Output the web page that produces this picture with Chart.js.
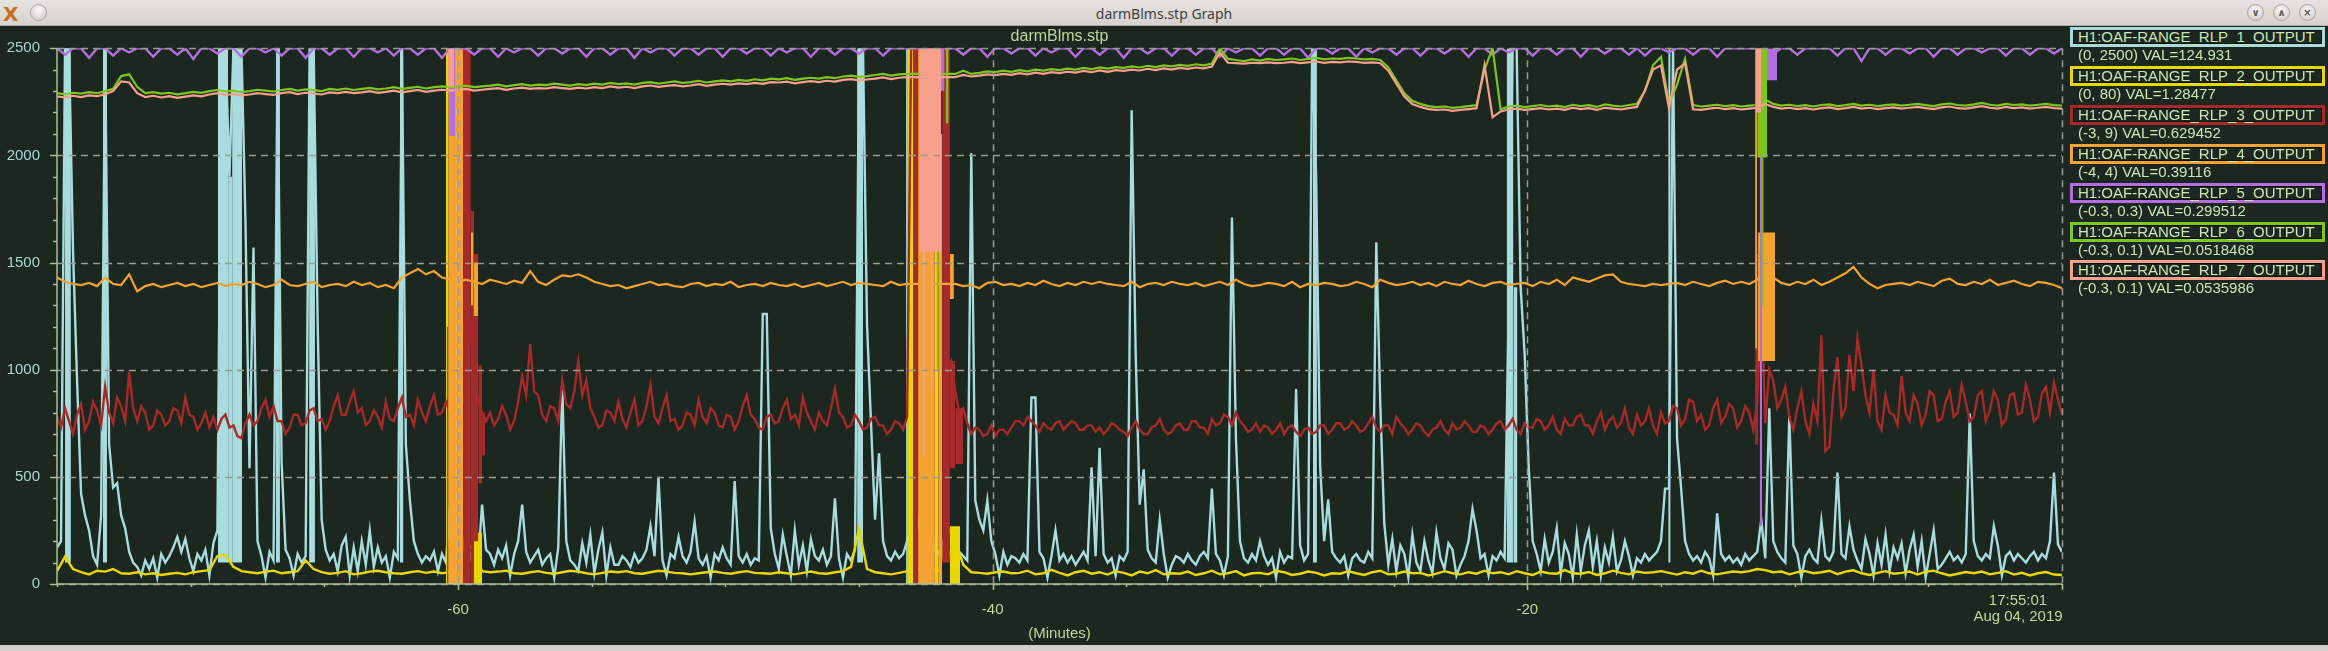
<!DOCTYPE html>
<html>
<head>
<meta charset="utf-8">
<title>darmBlms.stp Graph</title>
<script src="https://cdn.jsdelivr.net/npm/chart.js@4.4.1/dist/chart.umd.min.js"></script>
<style>
  html, body { margin: 0; padding: 0; background: #1b271f; }
  body { width: 2328px; height: 651px; position: relative; overflow: hidden; font-family: 'Liberation Sans', Arial, sans-serif; }
  #titlebar { position: absolute; left: 0; top: 0; width: 2328px; height: 26px; box-sizing: border-box;
              background: linear-gradient(#e6e4e0, #d5d2cd); border-bottom: 1px solid #aeaba6; }
  #titlebar .caption { position: absolute; left: 0; right: 0; top: 4px; text-align: center;
                       font: 14px 'Noto Sans', 'DejaVu Sans', sans-serif; color: #3f3f3f; }
  .wbtn { position: absolute; top: 4px; width: 17px; height: 17px; border-radius: 50%; box-sizing: border-box;
          background: radial-gradient(circle at 50% 35%, #fbfbfa, #c8c5c0); border: 1px solid #a9a6a1;
          font: bold 10px 'DejaVu Sans', sans-serif; color: #5a5a5a; text-align: center; line-height: 15px; }
  #xlogo { position: absolute; left: 3px; top: 2px; font: bold 20px 'DejaVu Sans', sans-serif; color: #c8701e; }
  #plot { position: absolute; left: 0; top: 26px; }
  #bottombar { position: absolute; left: 0; top: 645px; width: 2328px; height: 6px; background: #d3d0cb; }
  #legend { position: absolute; left: 2070px; top: 0; }
  .entry { position: absolute; left: 0; width: 255px; height: 39px; }
  .entry .box { height: 20px; box-sizing: border-box; border: 3px solid; background: #1b271f;
                box-shadow: inset 0 0 0 1px #0b110d; padding-left: 5px;
                font-size: 15px; line-height: 14px; color: #c9e6b6; white-space: nowrap; }
  .entry .info { position: absolute; left: 8px; top: 19px; font-size: 15px; line-height: 17px; color: #c9e6b6; white-space: nowrap; }
</style>
</head>
<body>
<div id="titlebar">
  <span id="xlogo">X</span>
  <span class="wbtn" style="left:30px"></span>
  <div class="caption">darmBlms.stp Graph</div>
  <span class="wbtn" style="left:2247px">∨</span>
  <span class="wbtn" style="left:2273px">∧</span>
  <span class="wbtn" style="left:2299px">×</span>
</div>
<canvas id="plot" width="2328" height="619"></canvas>
<div id="legend"></div>
<div id="bottombar"></div>
<script>
// time axis, minutes before 17:55:01
const tStart = -75;
const fastStep = 0.15;   // RLP_1 and RLP_3 read every 0.15 min
const slowStep = 0.3;    // the other channels every 0.3 min
const xTicks = [-60, -40, -20, 0];
const yTicks = [0, 500, 1000, 1500, 2000, 2500];

// values as drawn on the shared 0..2500 screen scale
const rlp1 = [
  170, 200, 2500, 2500, 1550, 950, 420, 320, 250, 130,
  90, 320, 2500, 650, 450, 470, 320, 260, 150, 100,
  80, 40, 110, 70, 120, 30, 140, 100, 130, 170,
  220, 150, 210, 120, 60, 140, 110, 160, 40, 190,
  250, 2500, 2500, 1900, 2500, 2500, 2500, 1690, 540, 1570,
  200, 130, 30, 150, 110, 2500, 570, 160, 120, 40,
  140, 100, 130, 2500, 2500, 1220, 300, 160, 110, 140,
  60, 180, 220, 40, 170, 60, 200, 90, 250, 80,
  170, 100, 130, 30, 150, 120, 2500, 650, 390, 200,
  140, 100, 130, 110, 150, 60, 140, 100, 370, 200,
  300, 150, 250, 120, 180, 100, 370, 160, 140, 90,
  160, 120, 180, 40, 140, 200, 370, 150, 100, 130,
  160, 90, 120, 140, 30, 170, 930, 200, 110, 90,
  60, 190, 100, 230, 50, 160, 240, 40, 170, 90,
  90, 130, 110, 80, 140, 100, 120, 160, 270, 130,
  500, 110, 40, 140, 120, 220, 130, 100, 150, 290,
  120, 90, 130, 30, 140, 110, 170, 120, 90, 480,
  130, 100, 140, 90, 120, 110, 1260, 1260, 260, 140,
  70, 230, 130, 40, 250, 90, 180, 60, 210, 130,
  110, 160, 90, 130, 400, 120, 30, 140, 110, 160,
  2500, 2500, 1210, 750, 300, 610, 200, 130, 110, 150,
  120, 140, 200, 250, 180, 300, 150, 220, 120, 180,
  140, 200, 120, 160, 100, 150, 130, 110, 2010, 390,
  300, 250, 390, 200, 140, 40, 150, 90, 130, 120,
  100, 140, 110, 870, 870, 150, 120, 30, 130, 250,
  110, 140, 100, 130, 90, 120, 150, 110, 545, 130,
  635, 140, 100, 120, 40, 130, 110, 150, 2210, 1070,
  370, 535, 160, 120, 100, 300, 140, 30, 90, 130,
  120, 100, 140, 110, 90, 130, 150, 120, 445, 140,
  110, 40, 130, 1710, 680, 200, 120, 100, 140, 110,
  200, 130, 90, 120, 30, 150, 100, 130, 120, 910,
  180, 110, 140, 2500, 1900, 550, 200, 395, 150, 120,
  100, 130, 40, 120, 140, 110, 100, 150, 120, 1595,
  835, 280, 90, 210, 60, 180, 140, 30, 230, 100,
  60, 200, 110, 50, 240, 120, 70, 190, 160, 40,
  90, 130, 200, 350, 250, 120, 140, 40, 130, 110,
  150, 120, 1300, 2500, 2500, 1385, 1070, 550, 200, 140,
  60, 210, 100, 150, 260, 50, 190, 140, 30, 230,
  60, 180, 250, 80, 200, 40, 170, 100, 220, 60,
  110, 200, 130, 40, 120, 100, 140, 110, 130, 150,
  200, 445, 445, 2500, 680, 450, 200, 140, 110, 130,
  100, 150, 120, 40, 330, 140, 110, 130, 100, 120,
  90, 140, 110, 130, 150, 300, 120, 820, 200, 150,
  120, 100, 785, 180, 140, 30, 130, 160, 120, 100,
  295, 130, 110, 150, 520, 140, 120, 270, 160, 110,
  70, 210, 140, 40, 190, 90, 230, 60, 170, 120,
  190, 50, 160, 230, 80, 200, 30, 140, 250, 70,
  90, 120, 150, 110, 130, 100, 140, 795, 200, 130,
  110, 140, 120, 270, 180, 40, 130, 150, 110, 140,
  120, 100, 130, 150, 110, 140, 120, 200, 520, 185,
  150
];
const rlp2 = [
  60, 128, 70, 55, 45, 62, 58, 70, 50, 48,
  55, 45, 50, 42, 48, 52, 45, 55, 60, 65,
  130, 135, 80, 60, 55, 50, 58, 62, 50, 55,
  60, 110, 70, 55, 48, 52, 60, 45, 50, 58,
  62, 55, 50, 48, 55, 60, 52, 58, 50, 55,
  120, 200, 150, 60, 55, 58, 62, 50, 48, 55,
  60, 52, 48, 55, 62, 58, 50, 45, 52, 58,
  55, 60, 50, 48, 55, 62, 58, 52, 50, 45,
  50, 55, 58, 52, 48, 55, 60, 52, 50, 48,
  55, 50, 45, 52, 58, 50, 48, 55, 60, 80,
  260, 70, 55, 50, 45, 52, 60, 55, 90, 70,
  60, 270, 200, 90, 55, 52, 48, 55, 58, 50,
  52, 62, 45, 50, 66, 52, 40, 55, 62, 48,
  55, 44, 60, 52, 40, 58, 50, 65, 45, 50,
  48, 58, 42, 50, 62, 45, 50, 60, 40, 50,
  52, 45, 62, 55, 42, 48, 58, 52, 40, 50,
  48, 60, 50, 42, 55, 62, 45, 48, 58, 50,
  52, 40, 48, 60, 50, 45, 55, 48, 62, 50,
  55, 45, 60, 50, 42, 58, 50, 48, 65, 50,
  48, 56, 42, 50, 62, 52, 45, 58, 52, 55,
  60, 52, 44, 55, 48, 62, 50, 45, 52, 58,
  55, 60, 70, 65, 55, 58, 45, 55, 60, 50,
  55, 62, 46, 58, 64, 50, 42, 52, 60, 48,
  52, 58, 44, 58, 62, 50, 40, 48, 56, 50,
  58, 45, 52, 60, 44, 52, 40, 50, 56, 44,
  42
];
const rlp3 = [
  780, 730, 820, 760, 700, 790, 840, 720, 760, 850, 810, 740, 920, 800, 750, 870, 830, 760, 990, 820,
  760, 830, 800, 720, 740, 810, 790, 740, 760, 820, 810, 750, 870, 790, 780, 720, 750, 800, 730, 780,
  720, 770, 790, 730, 740, 690, 680, 750, 790, 740, 760, 820, 860, 780, 830, 760, 760, 700, 730, 790,
  790, 740, 750, 810, 820, 760, 770, 720, 760, 830, 880, 790, 790, 850, 900, 800, 820, 740, 760, 810,
  780, 730, 850, 770, 760, 820, 870, 780, 790, 740, 860, 800, 760, 830, 880, 790, 800, 850, 800, 2500,
  2500, 2500, 1500, 1200, 990, 850, 800, 760, 800, 740, 770, 830, 790, 720, 760, 850, 970, 880, 1120, 900,
  880, 790, 760, 830, 820, 760, 950, 840, 820, 900, 1040, 880, 950, 820, 780, 730, 740, 810, 800, 760,
  850, 770, 730, 800, 860, 740, 760, 830, 930, 780, 750, 820, 880, 760, 770, 720, 740, 800, 790, 740,
  860, 780, 750, 820, 800, 740, 730, 790, 780, 720, 760, 830, 880, 790, 770, 730, 720, 780, 790, 750,
  760, 820, 860, 770, 790, 740, 870, 800, 760, 720, 800, 760, 740, 820, 910, 800, 780, 730, 740, 790,
  760, 720, 730, 770, 780, 740, 740, 700, 720, 760, 750, 720, 780, 2500, 2500, 2500, 1500, 1100, 900, 2500,
  2500, 2500, 1000, 1040, 900, 800, 820, 750, 700, 730, 720, 690, 700, 740, 690, 720, 720, 700, 730, 760,
  760, 740, 780, 760, 740, 710, 750, 730, 720, 750, 760, 720, 740, 760, 750, 720, 720, 740, 740, 710,
  730, 700, 720, 750, 740, 720, 710, 690, 730, 760, 720, 700, 700, 730, 740, 770, 720, 700, 710, 740,
  750, 720, 720, 760, 760, 730, 730, 700, 770, 740, 750, 790, 780, 740, 800, 760, 740, 710, 720, 750,
  710, 740, 730, 700, 720, 750, 700, 730, 740, 710, 690, 720, 730, 700, 710, 740, 740, 700, 720, 750,
  750, 720, 730, 760, 740, 710, 720, 750, 780, 730, 710, 740, 740, 700, 780, 750, 730, 700, 720, 750,
  740, 710, 690, 720, 730, 760, 720, 700, 750, 720, 730, 760, 740, 710, 710, 740, 730, 700, 720, 750,
  760, 720, 740, 770, 720, 700, 750, 730, 730, 770, 760, 720, 740, 780, 720, 700, 770, 740, 740, 780,
  790, 740, 740, 700, 760, 800, 720, 760, 780, 730, 750, 820, 730, 700, 790, 740, 760, 820, 740, 700,
  800, 750, 760, 830, 820, 740, 770, 860, 850, 760, 790, 720, 740, 820, 860, 750, 780, 840, 820, 730,
  760, 830, 800, 720, 850, 1400, 750, 1000, 950, 820, 860, 920, 780, 720, 820, 900, 760, 700, 840, 760,
  1160, 620, 640, 900, 1060, 780, 820, 1070, 900, 1145, 1020, 880, 800, 1000, 760, 720, 880, 800, 790, 740,
  970, 800, 760, 880, 840, 740, 790, 900, 880, 760, 770, 850, 900, 780, 800, 930, 850, 760, 780, 880,
  900, 760, 810, 900, 860, 740, 770, 880, 890, 790, 800, 930, 860, 760, 780, 890, 920, 800, 940, 860,
  790
];
const rlp4 = [
  1430, 1410, 1400, 1395, 1405, 1390, 1430, 1400, 1395, 1445,
  1365, 1390, 1400, 1385, 1395, 1405, 1390, 1400, 1385, 1395,
  1405, 1390, 1400, 1395, 1410, 1400, 1385, 1395, 1420, 1395,
  1390, 1400, 1410, 1385, 1395, 1400, 1390, 1410, 1395, 1405,
  1385, 1395, 1380, 1430, 1450, 1470, 1445, 1460, 1430, 1420,
  1410, 1420, 1410, 1400, 1420, 1410, 1400, 1415, 1405, 1460,
  1410, 1395, 1420, 1440, 1435, 1445, 1430, 1410, 1400, 1390,
  1395, 1380, 1390, 1400, 1410, 1395, 1400, 1390, 1385, 1400,
  1405, 1390, 1400, 1395, 1410, 1385, 1395, 1400, 1390, 1405,
  1395, 1390, 1400, 1385, 1395, 1405, 1390, 1400, 1410, 1395,
  1405, 1400, 1395, 1390, 1410, 1395, 1400, 1400, 1400, 1400,
  1400, 1400, 1400, 1390, 1395, 1380, 1405, 1410, 1395, 1400,
  1390, 1405, 1395, 1415, 1400, 1390, 1405, 1395, 1410, 1400,
  1410, 1400, 1395, 1390, 1410, 1385, 1400, 1405, 1395, 1410,
  1400, 1395, 1405, 1390, 1400, 1410, 1395, 1420, 1400, 1390,
  1395, 1405, 1400, 1390, 1410, 1385, 1400, 1395, 1405, 1400,
  1390, 1395, 1410, 1400, 1385, 1420, 1405, 1395, 1400, 1410,
  1395, 1405, 1390, 1410, 1400, 1395, 1415, 1400, 1390, 1405,
  1410, 1395, 1400, 1405, 1390, 1410, 1400, 1420, 1395, 1430,
  1420, 1410, 1425, 1440, 1445, 1410, 1400, 1395, 1390, 1400,
  1395, 1400, 1405, 1395, 1410, 1400, 1390, 1405, 1415, 1400,
  1410, 1400, 1420, 1460, 1430, 1405, 1395, 1410, 1400, 1420,
  1395, 1410, 1430, 1450, 1480, 1430, 1400, 1380, 1395, 1400,
  1405, 1395, 1410, 1400, 1390, 1415, 1425, 1400, 1395, 1410,
  1400, 1420, 1395, 1405, 1415, 1400, 1390, 1410, 1405, 1395,
  1380
];
const rlp5 = [
  2500, 2470, 2500, 2500, 2455, 2500, 2500, 2465, 2500, 2480,
  2500, 2500, 2460, 2500, 2500, 2470, 2500, 2450, 2500, 2500,
  2475, 2500, 2500, 2460, 2500, 2500, 2480, 2500, 2465, 2500,
  2500, 2455, 2500, 2500, 2470, 2500, 2500, 2460, 2500, 2500,
  2480, 2500, 2465, 2500, 2500, 2470, 2500, 2500, 2455, 2500,
  2500, 2500, 2470, 2500, 2500, 2460, 2500, 2480, 2500, 2500,
  2465, 2500, 2500, 2475, 2500, 2500, 2460, 2500, 2500, 2470,
  2500, 2500, 2455, 2500, 2480, 2500, 2500, 2465, 2500, 2500,
  2470, 2500, 2500, 2460, 2500, 2500, 2475, 2500, 2500, 2465,
  2500, 2480, 2500, 2500, 2460, 2500, 2500, 2470, 2500, 2500,
  2475, 2500, 2500, 2465, 2500, 2500, 2500, 2500, 2500, 2500,
  2500, 2500, 2500, 2470, 2500, 2500, 2460, 2500, 2500, 2475,
  2500, 2500, 2465, 2500, 2480, 2500, 2500, 2460, 2500, 2500,
  2470, 2500, 2500, 2455, 2500, 2500, 2475, 2500, 2500, 2465,
  2500, 2500, 2470, 2500, 2500, 2460, 2500, 2480, 2500, 2500,
  2465, 2500, 2500, 2470, 2500, 2500, 2455, 2500, 2500, 2475,
  2500, 2500, 2460, 2500, 2480, 2500, 2500, 2470, 2500, 2500,
  2465, 2500, 2500, 2475, 2500, 2500, 2460, 2500, 2500, 2470,
  2500, 2480, 2500, 2500, 2465, 2500, 2500, 2470, 2500, 2500,
  2460, 2500, 2500, 2475, 2500, 2500, 2470, 2500, 2465, 2500,
  2500, 2480, 2500, 2500, 2470, 2500, 2500, 2460, 2500, 2500,
  2500, 2500, 2500, 2500, 2475, 2500, 2500, 2470, 2500, 2500,
  2500, 2500, 2465, 2500, 2500, 2440, 2500, 2500, 2470, 2500,
  2500, 2475, 2500, 2500, 2460, 2500, 2500, 2470, 2500, 2500,
  2480, 2500, 2500, 2465, 2500, 2500, 2470, 2500, 2500, 2475,
  2500
];
const rlp6 = [
  2290, 2285, 2292, 2288, 2295, 2290, 2300, 2310, 2370, 2378,
  2320, 2290, 2295, 2288, 2292, 2285, 2290, 2296, 2292, 2300,
  2305, 2298, 2302, 2295, 2300, 2306, 2302, 2298, 2305, 2310,
  2302, 2308, 2304, 2300, 2310, 2306, 2312, 2305, 2310, 2315,
  2308, 2312, 2318, 2310, 2315, 2320, 2312, 2318, 2322, 2318,
  2320, 2325, 2318, 2322, 2325, 2330, 2322, 2328, 2332, 2325,
  2330, 2328, 2335, 2330, 2325, 2332, 2328, 2335, 2330, 2338,
  2332, 2336, 2330, 2338, 2342, 2335, 2340, 2345, 2338, 2342,
  2348, 2340, 2345, 2350, 2345, 2352, 2348, 2355, 2350, 2358,
  2355, 2360, 2352, 2358, 2362, 2358, 2365, 2360, 2368, 2372,
  2366, 2370, 2375, 2380, 2372, 2378, 2380, 2380, 2380, 2380,
  2380, 2380, 2380, 2395, 2380, 2385, 2392, 2388, 2395, 2390,
  2398, 2392, 2400, 2395, 2402, 2398, 2405, 2400, 2408, 2402,
  2410, 2405, 2412, 2408, 2415, 2410, 2418, 2412, 2420, 2415,
  2422, 2418, 2425, 2420, 2428, 2500, 2450, 2445, 2440, 2448,
  2442, 2450, 2445, 2448, 2452, 2445, 2450, 2455, 2448, 2452,
  2450, 2455, 2452, 2448, 2450, 2445, 2410, 2350, 2290, 2255,
  2240, 2230, 2225, 2228, 2222, 2225, 2230, 2235, 2400, 2500,
  2215, 2228, 2232, 2225, 2230, 2235, 2228, 2232, 2225, 2236,
  2230, 2234, 2226, 2238, 2232, 2228, 2235, 2240, 2300, 2420,
  2460, 2240, 2330, 2450, 2235, 2228, 2232, 2236, 2230, 2234,
  2228, 2232, 2235, 2260, 2240, 2232, 2236, 2230, 2234, 2228,
  2235, 2238, 2230, 2234, 2240, 2232, 2236, 2230, 2234, 2238,
  2232, 2236, 2240, 2234, 2230, 2238, 2242, 2235, 2232, 2238,
  2245, 2236, 2232, 2240, 2235, 2238, 2232, 2236, 2240, 2234,
  2232
];
const rlp7 = [
  2275, 2270, 2278, 2272, 2280, 2276, 2285, 2300, 2345, 2340,
  2290, 2272, 2278, 2270, 2276, 2268, 2274, 2280, 2275, 2284,
  2290, 2282, 2286, 2280, 2284, 2290, 2286, 2282, 2290, 2295,
  2286, 2292, 2288, 2284, 2294, 2290, 2296, 2290, 2294, 2300,
  2292, 2296, 2302, 2294, 2300, 2305, 2296, 2302, 2306, 2302,
  2305, 2310, 2302, 2306, 2310, 2314, 2306, 2312, 2316, 2310,
  2314, 2312, 2318, 2314, 2310, 2316, 2312, 2318, 2314, 2322,
  2316, 2320, 2314, 2322, 2326, 2320, 2324, 2328, 2322, 2326,
  2332, 2324, 2330, 2334, 2330, 2336, 2332, 2338, 2334, 2342,
  2340, 2344, 2336, 2342, 2346, 2342, 2348, 2344, 2352, 2356,
  2350, 2354, 2358, 2364, 2356, 2362, 2365, 2365, 2365, 2365,
  2365, 2365, 2365, 2375, 2368, 2372, 2378, 2374, 2380, 2376,
  2384, 2378, 2386, 2380, 2388, 2384, 2390, 2386, 2394, 2388,
  2396, 2390, 2398, 2394, 2400, 2396, 2404, 2398, 2406, 2400,
  2408, 2404, 2410, 2406, 2414, 2480, 2432, 2430, 2428, 2432,
  2430, 2434, 2430, 2432, 2436, 2430, 2434, 2438, 2432, 2436,
  2434, 2438, 2436, 2432, 2434, 2430, 2395, 2335, 2275, 2240,
  2226, 2216, 2212, 2214, 2208, 2212, 2216, 2220, 2420, 2178,
  2205, 2214, 2218, 2212, 2216, 2220, 2214, 2218, 2212, 2222,
  2216, 2220, 2212, 2222, 2218, 2214, 2220, 2226, 2303, 2400,
  2420, 2220, 2400, 2430, 2215, 2212, 2218, 2222, 2216, 2220,
  2214, 2218, 2222, 2240, 2226, 2218, 2222, 2216, 2220, 2214,
  2220, 2224, 2216, 2220, 2226, 2218, 2222, 2216, 2220, 2224,
  2218, 2222, 2226, 2220, 2216, 2224, 2228, 2220, 2218, 2224,
  2230, 2222, 2218, 2226, 2220, 2224, 2218, 2222, 2226, 2220,
  2218
];

// min/max envelopes where a channel swings too fast for the trace: [from, to, min, max]
const rlp1Bursts = [
  [-74.70, -74.48, 100, 2500], [-73.28, -73.13, 100, 2500],
  [-68.98, -68.60, 100, 2500], [-68.60, -68.45, 100, 1900], [-68.45, -68.08, 100, 2500],
  [-66.81, -66.66, 100, 2500], [-65.57, -65.35, 100, 2500], [-62.17, -62.04, 100, 2500],
  [-45.07, -44.85, 100, 2500], [-43.24, -43.17, 0, 2500], [-28.02, -27.87, 100, 2500],
  [-20.77, -20.52, 100, 2500], [-20.52, -20.37, 100, 1385], [-14.73, -14.64, 100, 2500]
];
const rlp2Bursts = [
  [-60.45, -60.37, 0, 2500], [-60.13, -60.08, 0, 2500], [-59.76, -59.71, 0, 2500], [-59.51, -59.10, 0, 240],
  [-43.17, -42.98, 0, 2500], [-42.16, -42.04, 0, 1850], [-41.60, -41.22, 0, 270]
];
const rlp3Bursts = [
  [-60.41, -60.36, 0, 1200], [-59.81, -59.52, 0, 2500], [-59.52, -59.40, 0, 1740],
  [-59.40, -59.24, 200, 1540], [-59.24, -59.10, 470, 1020], [-59.10, -58.98, 600, 800],
  [-42.98, -42.79, 0, 2500], [-41.89, -41.60, 100, 2500], [-41.60, -41.40, 540, 1040],
  [-41.40, -41.10, 560, 820], [-11.48, -11.37, 650, 1540]
];
const rlp4Bursts = [
  [-60.37, -59.81, 0, 2500], [-59.52, -59.42, 1300, 1640], [-59.42, -59.25, 1250, 1500],
  [-42.79, -42.16, 0, 2500], [-42.04, -41.89, 0, 2100], [-41.60, -41.45, 1330, 1540],
  [-11.48, -11.40, 1100, 2500], [-11.37, -10.73, 1040, 1640]
];
const rlp5Bursts = [
  [-60.33, -60.10, 2090, 2500], [-41.95, -41.80, 2300, 2500],
  [-11.31, -11.22, 270, 2500], [-11.15, -10.66, 2350, 2500]
];
const rlp6Bursts = [
  [-42.10, -42.02, 1000, 2500], [-41.75, -41.65, 2150, 2500],
  [-11.40, -11.03, 1990, 2500], [-11.22, -11.16, 1300, 1990]
];
const rlp7Bursts = [
  [-60.37, -60.15, 2320, 2500],
  [-42.75, -41.92, 1550, 2500], [-42.62, -42.52, 600, 1550], [-42.30, -42.24, 900, 1550],
  [-11.45, -11.25, 2200, 2500]
];

const channelNames = [
  'H1:OAF-RANGE_RLP_1_OUTPUT', 'H1:OAF-RANGE_RLP_2_OUTPUT', 'H1:OAF-RANGE_RLP_3_OUTPUT',
  'H1:OAF-RANGE_RLP_4_OUTPUT', 'H1:OAF-RANGE_RLP_5_OUTPUT', 'H1:OAF-RANGE_RLP_6_OUTPUT',
  'H1:OAF-RANGE_RLP_7_OUTPUT'
];
const channelRanges = ['(0, 2500)', '(0, 80)', '(-3, 9)', '(-4, 4)', '(-0.3, 0.3)', '(-0.3, 0.1)', '(-0.3, 0.1)'];
const channelValues = ['124.931', '1.28477', '0.629452', '0.39116', '0.299512', '0.0518468', '0.0535986'];
const channelColors = ['#a9dcdc', '#e8d800', '#a62a2a', '#f4a232', '#b46ee0', '#7dc61e', '#f7a08c'];
const lineWidths = [2.4, 2.4, 2.4, 2.2, 2.4, 2.2, 2.2];

const traces = [rlp1, rlp2, rlp3, rlp4, rlp5, rlp6, rlp7];
const steps = [fastStep, slowStep, fastStep, slowStep, slowStep, slowStep, slowStep];
const bursts = [rlp1Bursts, rlp2Bursts, rlp3Bursts, rlp4Bursts, rlp5Bursts, rlp6Bursts, rlp7Bursts];

// later channels paint over earlier ones
const datasets = [];
traces.forEach((values, k) => {
  const order = 10 * (traces.length - k);
  datasets.push({
    data: values.map((v, i) => ({ x: tStart + i * steps[k], y: v })),
    borderColor: channelColors[k],
    borderWidth: lineWidths[k],
    pointRadius: 0,
    fill: false,
    order: order
  });
  bursts[k].forEach(([from, to, lo, hi]) => {
    datasets.push({
      data: [{ x: from, y: hi }, { x: to, y: hi }],
      borderWidth: 0,
      borderColor: 'rgba(0,0,0,0)',
      backgroundColor: channelColors[k],
      pointRadius: 0,
      fill: { value: lo },
      order: order - 1
    });
  });
});

// legend panel
const legend = document.getElementById('legend');
channelNames.forEach((name, k) => {
  const e = document.createElement('div');
  e.className = 'entry';
  e.style.top = (27 + 38.9 * k) + 'px';
  e.innerHTML = '<div class="box" style="border-color:' + channelColors[k] + '">' + name + '</div>' +
    '<div class="info">' + channelRanges[k] + ' VAL=' + channelValues[k] + '</div>';
  legend.appendChild(e);
});

const frame = {
  id: 'frame',
  afterDatasetsDraw(chart) {
    const { ctx, chartArea: a, scales: { x, y } } = chart;
    ctx.save();
    ctx.strokeStyle = '#9a9a94';
    ctx.lineWidth = 1.5;
    ctx.setLineDash([7, 5]);
    ctx.beginPath();
    yTicks.forEach(v => {
      const py = Math.round(y.getPixelForValue(v)) + 0.5;
      ctx.moveTo(a.left, py); ctx.lineTo(a.right, py);
    });
    xTicks.forEach(v => {
      const px = Math.round(x.getPixelForValue(v)) + 0.5;
      ctx.moveTo(px, a.top); ctx.lineTo(px, a.bottom);
    });
    ctx.stroke();
    ctx.setLineDash([]);

    ctx.strokeStyle = '#aac094';
    ctx.lineWidth = 1.5;
    ctx.beginPath();
    ctx.moveTo(a.left, a.top); ctx.lineTo(a.left, a.bottom); ctx.lineTo(a.right, a.bottom);
    for (let v = 0; v <= 2500; v += 100) {
      const py = Math.round(y.getPixelForValue(v)) + 0.5;
      ctx.moveTo(a.left, py); ctx.lineTo(a.left - (v % 500 ? 4 : 7), py);
    }
    for (let m = -75; m <= 0; m += 5) {
      const px = Math.round(x.getPixelForValue(m)) + 0.5;
      ctx.moveTo(px, a.bottom); ctx.lineTo(px, a.bottom + (m % 20 ? 3 : 6));
    }
    ctx.stroke();

    ctx.fillStyle = '#bcd89e';
    ctx.font = '15px "Liberation Sans", Arial, sans-serif';
    ctx.textAlign = 'center';
    ctx.textBaseline = 'middle';
    ctx.fillText('17:55:01', a.right - 44, a.bottom + 17);
    ctx.fillText('Aug 04, 2019', a.right - 44, a.bottom + 33);
    ctx.restore();
  }
};

Chart.defaults.font.family = '"Liberation Sans", Arial, sans-serif';

new Chart(document.getElementById('plot'), {
  type: 'line',
  data: { datasets: datasets },
  options: {
    responsive: false,
    animation: false,
    events: [],
    layout: { padding: { left: 0, right: 266, top: 0, bottom: 0 } },
    scales: {
      x: {
        type: 'linear',
        min: -75,
        max: 0,
        afterBuildTicks: s => { s.ticks = xTicks.map(v => ({ value: v })); },
        afterFit: s => { s.height = 61; },
        grid: { display: false },
        border: { display: false },
        ticks: {
          color: '#bcd89e', font: { size: 15 }, padding: 9, maxRotation: 0, autoSkip: false,
          callback: v => (v === 0 ? '' : String(v))
        },
        title: { display: true, text: '(Minutes)', color: '#bcd89e', font: { size: 15 }, padding: { top: 0, bottom: 2 } }
      },
      y: {
        type: 'linear',
        min: 0,
        max: 2500,
        afterBuildTicks: s => { s.ticks = yTicks.map(v => ({ value: v })); },
        afterFit: s => { s.width = 57; },
        grid: { display: false },
        border: { display: false },
        ticks: { color: '#a9d8d2', font: { size: 15 }, padding: 9, callback: v => String(v) }
      }
    },
    plugins: {
      legend: { display: false },
      tooltip: { enabled: false },
      title: {
        display: true, text: 'darmBlms.stp', color: '#bcd89e', fullSize: false,
        font: { size: 16, weight: 'normal' }, padding: { top: 1, bottom: 2 }
      }
    }
  },
  plugins: [frame]
});
</script>
</body>
</html>
